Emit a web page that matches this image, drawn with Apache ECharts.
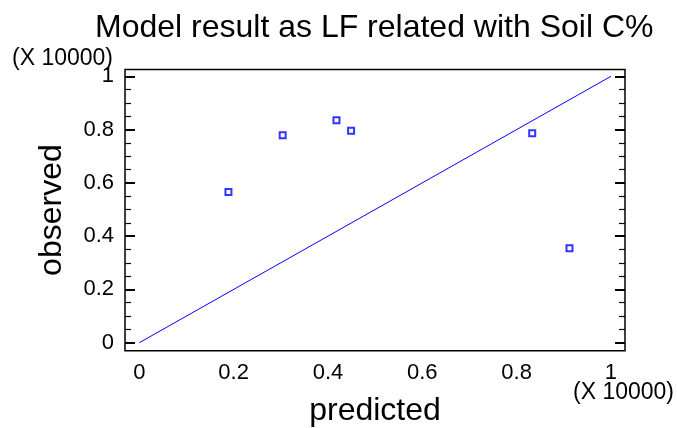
<!DOCTYPE html>
<html>
<head>
<meta charset="utf-8">
<script src="https://cdn.jsdelivr.net/npm/echarts@6/dist/echarts.min.js"></script>
<style>
  html, body { margin: 0; padding: 0; background: #fff; }
  #main { width: 677px; height: 428px; }
</style>
</head>
<body>
<div id="main"></div>
<script>
// values are in units of 10000, as the axes show them
var predicted = [0.189, 0.304, 0.418, 0.449, 0.833, 0.912];
var observed = [0.566, 0.779, 0.835, 0.796, 0.786, 0.355];
var refLine = [[0, 0], [1, 1]];
var majorTicks = [0, 0.2, 0.4, 0.6, 0.8, 1];
var minorTicks = [0.05, 0.1, 0.15, 0.25, 0.3, 0.35, 0.45, 0.5, 0.55,
                  0.65, 0.7, 0.75, 0.85, 0.9, 0.95];
var scaleText = '(X 10000)';
var font = 'Liberation Sans, Arial, sans-serif';

var chart = echarts.init(document.getElementById('main'));

var points = predicted.map(function (p, i) { return [p, observed[i]]; });

// one y axis per tick set, so major and minor ticks get their own length
function tickAxis(pos, ticks, len, width, labels) {
  return {
    type: 'value', position: pos, min: -0.030, max: 1.0255,
    axisLine: { show: false, onZero: false },
    axisTick: { show: true, inside: true, length: len, customValues: ticks,
                lineStyle: { color: '#000', width: width } },
    splitLine: { show: false },
    axisLabel: labels
      ? { customValues: majorTicks, margin: 11, padding: [5, 0, 0, 0],
          fontFamily: font, fontSize: 22, color: '#000' }
      : { show: false }
  };
}

var yMain = tickAxis('left', majorTicks, 10, 2, true);
yMain.name = 'observed';
yMain.nameLocation = 'middle';
yMain.nameGap = 57;
yMain.nameTextStyle = { fontFamily: font, fontSize: 32, color: '#000' };

chart.setOption({
  animation: false,
  title: {
    text: 'Model result as LF related with Soil C%',
    left: 90, top: 7,
    textStyle: { fontFamily: font, fontSize: 32, fontWeight: 'normal', color: '#000' }
  },
  grid: {
    left: 125, right: 52, top: 69.5, bottom: 77.3,
    outerBoundsMode: 'none', containLabel: false,
    show: true, borderColor: '#000', borderWidth: 1.5
  },
  xAxis: {
    type: 'value', min: -0.0303, max: 1.0297,
    axisLine: { show: false, onZero: false }, axisTick: { show: false }, splitLine: { show: false },
    axisLabel: { customValues: majorTicks, margin: 11, fontFamily: font, fontSize: 22, color: '#000' },
    name: 'predicted', nameLocation: 'middle', nameGap: 44,
    nameTextStyle: { fontFamily: font, fontSize: 32, color: '#000' }
  },
  yAxis: [
    yMain,
    tickAxis('left', minorTicks, 6, 1.2, false),
    tickAxis('right', majorTicks, 10, 2, false),
    tickAxis('right', minorTicks, 6, 1.2, false)
  ],
  graphic: [
    { type: 'text', left: 12, top: 47, style: { text: scaleText, font: '23px ' + font, fill: '#000' } },
    { type: 'text', left: 573, top: 381, style: { text: scaleText, font: '23px ' + font, fill: '#000' } }
  ],
  series: [
    {
      type: 'line', data: refLine, symbol: 'none',
      lineStyle: { color: '#0000ff', width: 1 }
    },
    {
      type: 'scatter', data: points, symbol: 'emptyRect', symbolSize: 6,
      itemStyle: { color: '#0000ff', borderWidth: 1 }
    }
  ]
});
</script>
</body>
</html>
